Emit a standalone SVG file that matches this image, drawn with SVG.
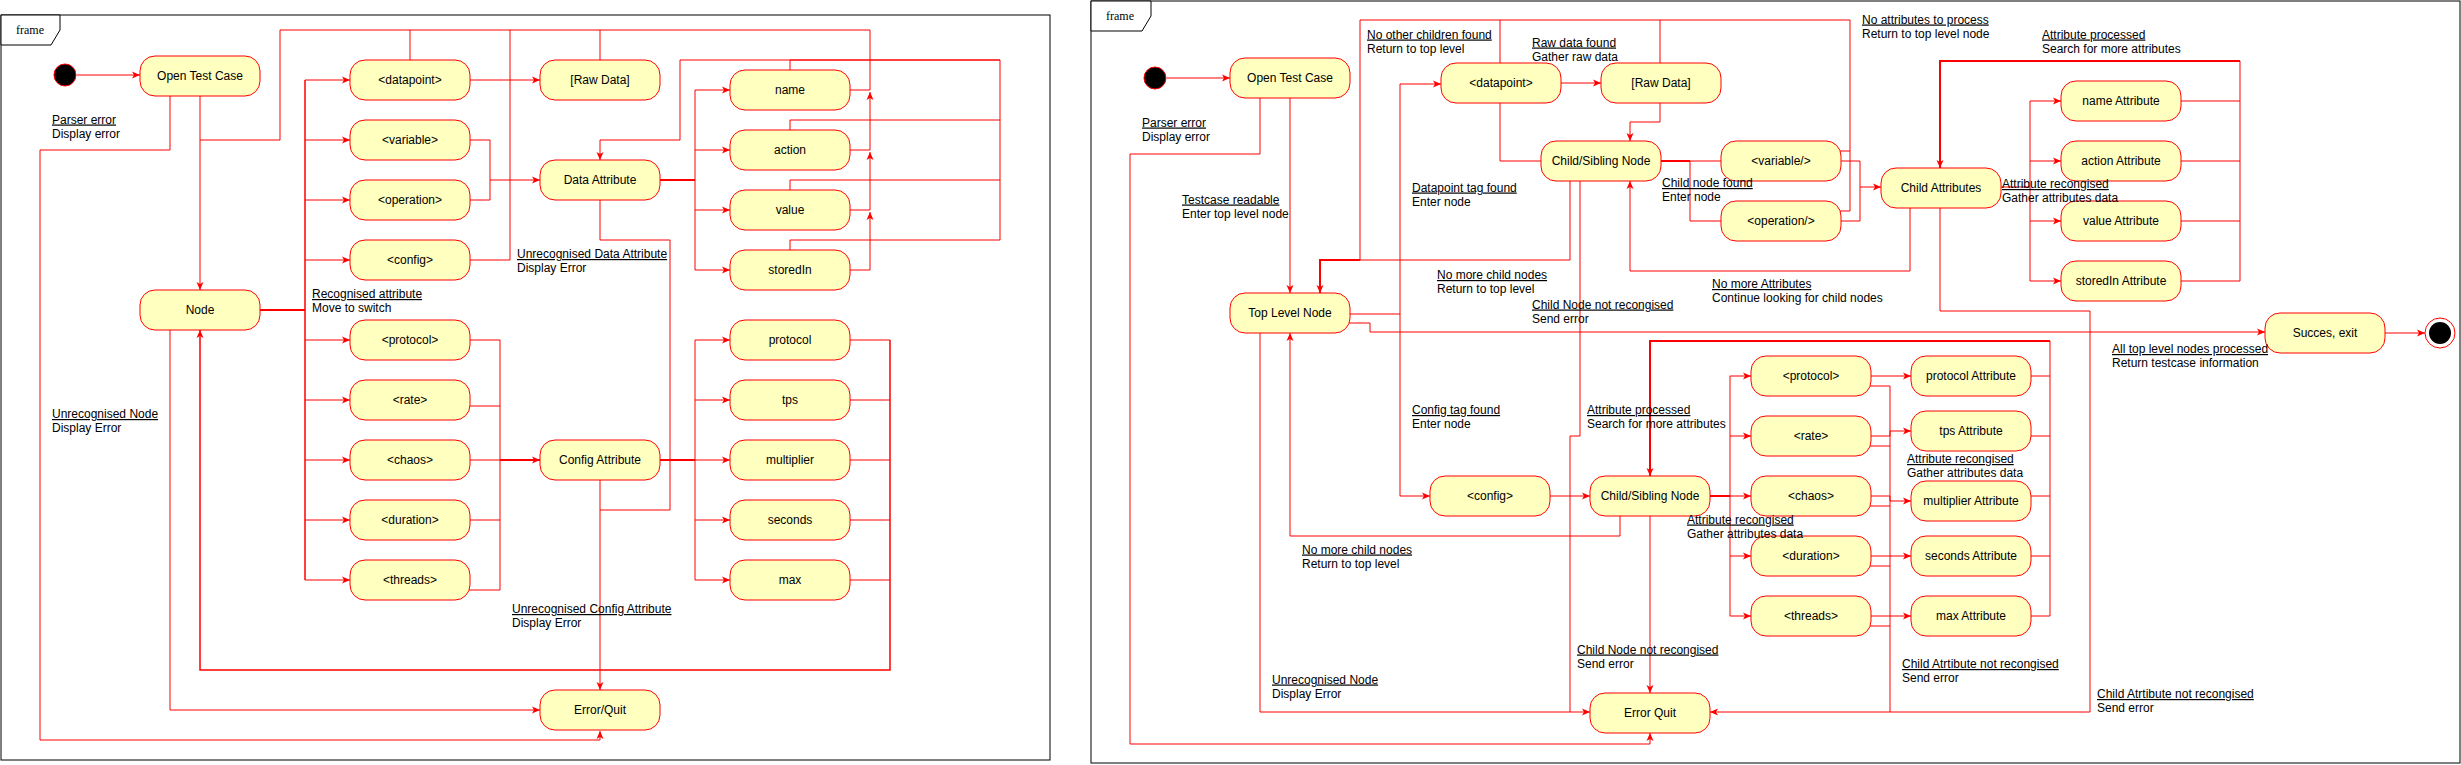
<svg xmlns="http://www.w3.org/2000/svg" width="2461" height="765" viewBox="0 0 2461 765">
<style>
.bg{fill:#fff}
.fr{fill:none;stroke:#000;stroke-width:1}
.tab{fill:#fff;stroke:#000;stroke-width:1}
.ft{font-family:"Liberation Serif",serif;font-size:12px;fill:#000;text-anchor:middle}
.n rect{fill:#ffffc0;stroke:#ff0000;stroke-width:1}
.n text{font-family:"Liberation Sans",Arial,sans-serif;font-size:12px;fill:#000;text-anchor:middle}
.e path{fill:none;stroke:#ff0000;stroke-width:1}
.e path.th{stroke-width:2}
.e path.a{marker-end:url(#arr)}
.lb{font-family:"Liberation Sans",Arial,sans-serif;font-size:12px;fill:#000}
.u{text-decoration:underline}
</style>
<defs>
<marker id="arr" viewBox="0 0 8 8" refX="8" refY="4" markerWidth="8" markerHeight="8" markerUnits="userSpaceOnUse" orient="auto">
<path d="M0,0.5 L8,4 L0,7.5 L2,4 Z" fill="#ff0000"/>
</marker>
</defs>
<rect class="bg" x="0" y="0" width="2461" height="765"/>

<!-- LEFT FRAME -->
<g id="frameL">
<rect class="fr" x="1" y="15" width="1049" height="745"/>
<path class="tab" d="M1,15 H60 V30 L51,45 H1 Z"/>
<text class="ft" x="30" y="34">frame</text>
</g>

<g class="e" id="edgesL">
<path class="a" d="M77,75 H140"/>
<path class="a" d="M200,96 V290"/>
<path class="a" d="M170,96 V150 H40 V740 H600 V731"/>
<path class="th" d="M260,310 H305"/>
<path d="M305,80 V580" style="stroke-width:1.5"/>
<path class="a" d="M305,80 H350"/>
<path class="a" d="M305,140 H350"/>
<path class="a" d="M305,200 H350"/>
<path class="a" d="M305,260 H350"/>
<path class="a" d="M305,340 H350"/>
<path class="a" d="M305,400 H350"/>
<path class="a" d="M305,460 H350"/>
<path class="a" d="M305,520 H350"/>
<path class="a" d="M305,580 H350"/>
<path class="a" d="M470,80 H540"/>
<path class="a" d="M470,140 H490 V180 H540"/>
<path d="M470,200 H490 V180"/>
<path d="M470,260 H510 V30"/>
<path d="M410,60 V30"/>
<path d="M600,60 V30"/>
<path d="M870,30 H280 V140 H200"/>
<path d="M850,90 H870 V30"/>
<path class="a" d="M850,150 H870 V92"/>
<path class="a" d="M850,210 H870 V152"/>
<path class="a" d="M850,270 H870 V212"/>
<path d="M790,70 V60 H1000"/>
<path d="M790,130 V120 H1000"/>
<path d="M790,190 V180 H1000"/>
<path d="M790,250 V240 H1000 V60"/>
<path class="a" d="M1000,60 H680 V140 H600 V160"/>
<path class="th" d="M660,180 H695"/>
<path d="M695,90 V270"/>
<path class="a" d="M695,90 H730"/>
<path class="a" d="M695,150 H730"/>
<path class="a" d="M695,210 H730"/>
<path class="a" d="M695,270 H730"/>
<path d="M600,200 V240 H670 V510 H600"/>
<path class="a" d="M600,480 V690"/>
<path d="M470,340 H500"/>
<path d="M470,406 H500"/>
<path d="M470,460 H500"/>
<path d="M470,520 H500"/>
<path d="M468,590 H500 V340"/>
<path class="a th" d="M500,460 H540"/>
<path class="th" d="M660,460 H695"/>
<path d="M695,340 V580"/>
<path class="a" d="M695,340 H730"/>
<path class="a" d="M695,400 H730"/>
<path class="a" d="M695,460 H730"/>
<path class="a" d="M695,520 H730"/>
<path class="a" d="M695,580 H730"/>
<path d="M850,340 H890"/>
<path d="M850,400 H890"/>
<path d="M850,460 H890"/>
<path d="M850,520 H890"/>
<path d="M850,580 H890"/>
<path class="a" d="M890,340 V670 H200 V330" style="stroke-width:1.5"/>
<path class="a" d="M170,330 V710 H540"/>
</g>

<g id="startL"><circle cx="65" cy="75" r="11" fill="#000" stroke="#ff0000" stroke-width="1"/></g>
<g class="n" id="L_open"><rect x="140" y="56" width="120" height="40" rx="15"/><text x="200" y="80">Open Test Case</text></g>
<g class="n" id="L_node"><rect x="140" y="290" width="120" height="40" rx="15"/><text x="200" y="314">Node</text></g>
<g class="n" id="L_datapoint"><rect x="350" y="60" width="120" height="40" rx="15"/><text x="410" y="84">&lt;datapoint&gt;</text></g>
<g class="n" id="L_variable"><rect x="350" y="120" width="120" height="40" rx="15"/><text x="410" y="144">&lt;variable&gt;</text></g>
<g class="n" id="L_operation"><rect x="350" y="180" width="120" height="40" rx="15"/><text x="410" y="204">&lt;operation&gt;</text></g>
<g class="n" id="L_config"><rect x="350" y="240" width="120" height="40" rx="15"/><text x="410" y="264">&lt;config&gt;</text></g>
<g class="n" id="L_protocol"><rect x="350" y="320" width="120" height="40" rx="15"/><text x="410" y="344">&lt;protocol&gt;</text></g>
<g class="n" id="L_rate"><rect x="350" y="380" width="120" height="40" rx="15"/><text x="410" y="404">&lt;rate&gt;</text></g>
<g class="n" id="L_chaos"><rect x="350" y="440" width="120" height="40" rx="15"/><text x="410" y="464">&lt;chaos&gt;</text></g>
<g class="n" id="L_duration"><rect x="350" y="500" width="120" height="40" rx="15"/><text x="410" y="524">&lt;duration&gt;</text></g>
<g class="n" id="L_threads"><rect x="350" y="560" width="120" height="40" rx="15"/><text x="410" y="584">&lt;threads&gt;</text></g>
<g class="n" id="L_raw"><rect x="540" y="60" width="120" height="40" rx="15"/><text x="600" y="84">[Raw Data]</text></g>
<g class="n" id="L_dataattr"><rect x="540" y="160" width="120" height="40" rx="15"/><text x="600" y="184">Data Attribute</text></g>
<g class="n" id="L_configattr"><rect x="540" y="440" width="120" height="40" rx="15"/><text x="600" y="464">Config Attribute</text></g>
<g class="n" id="L_error"><rect x="540" y="690" width="120" height="40" rx="15"/><text x="600" y="714">Error/Quit</text></g>
<g class="n" id="L_name"><rect x="730" y="70" width="120" height="40" rx="15"/><text x="790" y="94">name</text></g>
<g class="n" id="L_action"><rect x="730" y="130" width="120" height="40" rx="15"/><text x="790" y="154">action</text></g>
<g class="n" id="L_value"><rect x="730" y="190" width="120" height="40" rx="15"/><text x="790" y="214">value</text></g>
<g class="n" id="L_storedIn"><rect x="730" y="250" width="120" height="40" rx="15"/><text x="790" y="274">storedIn</text></g>
<g class="n" id="L_protocolv"><rect x="730" y="320" width="120" height="40" rx="15"/><text x="790" y="344">protocol</text></g>
<g class="n" id="L_tps"><rect x="730" y="380" width="120" height="40" rx="15"/><text x="790" y="404">tps</text></g>
<g class="n" id="L_multiplier"><rect x="730" y="440" width="120" height="40" rx="15"/><text x="790" y="464">multiplier</text></g>
<g class="n" id="L_seconds"><rect x="730" y="500" width="120" height="40" rx="15"/><text x="790" y="524">seconds</text></g>
<g class="n" id="L_max"><rect x="730" y="560" width="120" height="40" rx="15"/><text x="790" y="584">max</text></g>

<g id="labelsL">
<text class="lb" x="52" y="123.5"><tspan class="u">Parser error</tspan><tspan x="52" dy="14">Display error</tspan></text>
<text class="lb" x="312" y="298"><tspan class="u">Recognised attribute</tspan><tspan x="312" dy="14">Move to switch</tspan></text>
<text class="lb" x="517" y="258"><tspan class="u">Unrecognised Data Attribute</tspan><tspan x="517" dy="14">Display Error</tspan></text>
<text class="lb" x="52" y="418"><tspan class="u">Unrecognised Node</tspan><tspan x="52" dy="14">Display Error</tspan></text>
<text class="lb" x="512" y="613"><tspan class="u">Unrecognised Config Attribute</tspan><tspan x="512" dy="14">Display Error</tspan></text>
</g>

<!-- RIGHT FRAME -->
<g id="frameR">
<rect class="fr" x="1091" y="1" width="1369" height="762"/>
<path class="tab" d="M1091,1 H1151 V16 L1142,31 H1091 Z"/>
<text class="ft" x="1120" y="20">frame</text>
</g>

<g class="e" id="edgesR">
<path class="a" d="M1167,78 H1230"/>
<path class="a" d="M1290,98 V293"/>
<path class="a" d="M1260,98 V154 H1130 V744 H1650 V733"/>
<path class="a" d="M1350,314 H1400 V84 H1441"/>
<path class="a" d="M1400,314 V496 H1430"/>
<path class="a" d="M1349,323 H1370 V332 H2265"/>
<path class="a" d="M2385,333 H2425"/>
<path class="a" d="M1260,333 V712 H1590"/>
<path d="M1580,181 V436 H1570 V712"/>
<path d="M1570,181 V260 H1360"/>
<path class="a th" d="M1360,260 H1320 V293"/>
<path d="M1500,63 V20 H1850 V211 H1840"/>
<path d="M1360,20 H1500"/>
<path d="M1360,20 V260"/>
<path d="M1660,63 V20"/>
<path d="M1840,151 H1850"/>
<path class="a" d="M1561,83 H1601"/>
<path class="a" d="M1660,103 V122 H1630 V141"/>
<path d="M1500,103 V161 H1541"/>
<path class="th" d="M1660,161 H1690"/>
<path d="M1690,161 H1721"/>
<path d="M1690,161 V221 H1721"/>
<path class="a" d="M1840,161 H1860 V187 H1881"/>
<path d="M1840,221 H1860 V187"/>
<path class="a" d="M1910,208 V271 H1630 V181"/>
<path class="a" d="M1940,208 V311 H2090 V712 H1710"/>
<path d="M2001,187 H2030"/>
<path d="M2030,101 V281"/>
<path class="a" d="M2030,101 H2061"/>
<path class="a" d="M2030,161 H2061"/>
<path class="a" d="M2030,221 H2061"/>
<path class="a" d="M2030,281 H2061"/>
<path d="M2181,101 H2240"/>
<path d="M2181,161 H2240"/>
<path d="M2181,221 H2240"/>
<path d="M2181,281 H2240 V61"/>
<path class="a th" d="M2240,61 H1940 V168"/>
<path class="a" d="M1620,516 V536 H1290 V333"/>
<path class="a" d="M1650,516 V693"/>
<path class="a" d="M1550,496 H1590"/>
<path class="th" d="M1710,496 H1730"/>
<path d="M1730,376 V616"/>
<path class="a" d="M1730,376 H1751"/>
<path class="a" d="M1730,436 H1751"/>
<path class="a" d="M1730,496 H1751"/>
<path class="a" d="M1730,556 H1751"/>
<path class="a" d="M1730,616 H1751"/>
<path class="a" d="M1871,376 H1911"/>
<path class="a" d="M1871,436 H1890 V431 H1911"/>
<path class="a" d="M1871,496 H1890 V501 H1911"/>
<path class="a" d="M1871,556 H1911"/>
<path class="a" d="M1871,616 H1911"/>
<path d="M1868,386 H1890"/>
<path d="M1868,446 H1890"/>
<path d="M1868,506 H1890"/>
<path d="M1868,566 H1890"/>
<path d="M1868,626 H1890"/>
<path d="M1890,386 V712"/>
<path d="M2031,376 H2050"/>
<path d="M2031,436 H2050"/>
<path d="M2031,496 H2050"/>
<path d="M2031,556 H2050"/>
<path d="M2031,616 H2050 V341"/>
<path class="a th" d="M2050,341 H1650 V476"/>
</g>

<g id="startR"><circle cx="1155" cy="78" r="11" fill="#000" stroke="#ff0000" stroke-width="1"/></g>
<g id="endR"><circle cx="2440" cy="333" r="15" fill="#fff" stroke="#ff0000" stroke-width="1"/><circle cx="2440" cy="333" r="11" fill="#000"/></g>
<g class="n" id="R_open"><rect x="1230" y="58" width="120" height="40" rx="15"/><text x="1290" y="82">Open Test Case</text></g>
<g class="n" id="R_top"><rect x="1230" y="293" width="120" height="40" rx="15"/><text x="1290" y="317">Top Level Node</text></g>
<g class="n" id="R_datapoint"><rect x="1441" y="63" width="120" height="40" rx="15"/><text x="1501" y="87">&lt;datapoint&gt;</text></g>
<g class="n" id="R_raw"><rect x="1601" y="63" width="120" height="40" rx="15"/><text x="1661" y="87">[Raw Data]</text></g>
<g class="n" id="R_child1"><rect x="1541" y="141" width="120" height="40" rx="15"/><text x="1601" y="165">Child/Sibling Node</text></g>
<g class="n" id="R_variable"><rect x="1721" y="141" width="120" height="40" rx="15"/><text x="1781" y="165">&lt;variable/&gt;</text></g>
<g class="n" id="R_operation"><rect x="1721" y="201" width="120" height="40" rx="15"/><text x="1781" y="225">&lt;operation/&gt;</text></g>
<g class="n" id="R_childattr"><rect x="1881" y="168" width="120" height="40" rx="15"/><text x="1941" y="192">Child Attributes</text></g>
<g class="n" id="R_name"><rect x="2061" y="81" width="120" height="40" rx="15"/><text x="2121" y="105">name Attribute</text></g>
<g class="n" id="R_action"><rect x="2061" y="141" width="120" height="40" rx="15"/><text x="2121" y="165">action Attribute</text></g>
<g class="n" id="R_value"><rect x="2061" y="201" width="120" height="40" rx="15"/><text x="2121" y="225">value Attribute</text></g>
<g class="n" id="R_storedIn"><rect x="2061" y="261" width="120" height="40" rx="15"/><text x="2121" y="285">storedIn Attribute</text></g>
<g class="n" id="R_success"><rect x="2265" y="313" width="120" height="40" rx="15"/><text x="2325" y="337">Succes, exit</text></g>
<g class="n" id="R_config"><rect x="1430" y="476" width="120" height="40" rx="15"/><text x="1490" y="500">&lt;config&gt;</text></g>
<g class="n" id="R_child2"><rect x="1590" y="476" width="120" height="40" rx="15"/><text x="1650" y="500">Child/Sibling Node</text></g>
<g class="n" id="R_protocol"><rect x="1751" y="356" width="120" height="40" rx="15"/><text x="1811" y="380">&lt;protocol&gt;</text></g>
<g class="n" id="R_rate"><rect x="1751" y="416" width="120" height="40" rx="15"/><text x="1811" y="440">&lt;rate&gt;</text></g>
<g class="n" id="R_chaos"><rect x="1751" y="476" width="120" height="40" rx="15"/><text x="1811" y="500">&lt;chaos&gt;</text></g>
<g class="n" id="R_duration"><rect x="1751" y="536" width="120" height="40" rx="15"/><text x="1811" y="560">&lt;duration&gt;</text></g>
<g class="n" id="R_threads"><rect x="1751" y="596" width="120" height="40" rx="15"/><text x="1811" y="620">&lt;threads&gt;</text></g>
<g class="n" id="R_protocolattr"><rect x="1911" y="356" width="120" height="40" rx="15"/><text x="1971" y="380">protocol Attribute</text></g>
<g class="n" id="R_tps"><rect x="1911" y="411" width="120" height="40" rx="15"/><text x="1971" y="435">tps Attribute</text></g>
<g class="n" id="R_multiplier"><rect x="1911" y="481" width="120" height="40" rx="15"/><text x="1971" y="505">multiplier Attribute</text></g>
<g class="n" id="R_seconds"><rect x="1911" y="536" width="120" height="40" rx="15"/><text x="1971" y="560">seconds Attribute</text></g>
<g class="n" id="R_max"><rect x="1911" y="596" width="120" height="40" rx="15"/><text x="1971" y="620">max Attribute</text></g>
<g class="n" id="R_error"><rect x="1590" y="693" width="120" height="40" rx="15"/><text x="1650" y="717">Error Quit</text></g>

<g id="labelsR">
<text class="lb" x="1142" y="126.5"><tspan class="u">Parser error</tspan><tspan x="1142" dy="14">Display error</tspan></text>
<text class="lb" x="1182" y="203.5"><tspan class="u">Testcase readable</tspan><tspan x="1182" dy="14">Enter top level node</tspan></text>
<text class="lb" x="1367" y="38.5"><tspan class="u">No other children found</tspan><tspan x="1367" dy="14">Return to top level</tspan></text>
<text class="lb" x="1532" y="46.5"><tspan class="u">Raw data found</tspan><tspan x="1532" dy="14">Gather raw data</tspan></text>
<text class="lb" x="1412" y="191.5"><tspan class="u">Datapoint tag found</tspan><tspan x="1412" dy="14">Enter node</tspan></text>
<text class="lb" x="1662" y="187"><tspan class="u">Child node found</tspan><tspan x="1662" dy="14">Enter node</tspan></text>
<text class="lb" x="1862" y="23.5"><tspan class="u">No attributes to process</tspan><tspan x="1862" dy="14">Return to top level node</tspan></text>
<text class="lb" x="2042" y="38.5"><tspan class="u">Attribute processed</tspan><tspan x="2042" dy="14">Search for more attributes</tspan></text>
<text class="lb" x="2002" y="188"><tspan class="u">Attribute recongised</tspan><tspan x="2002" dy="14">Gather attributes data</tspan></text>
<text class="lb" x="1437" y="279"><tspan class="u">No more child nodes</tspan><tspan x="1437" dy="14">Return to top level</tspan></text>
<text class="lb" x="1712" y="288"><tspan class="u">No more Attributes</tspan><tspan x="1712" dy="14">Continue looking for child nodes</tspan></text>
<text class="lb" x="1532" y="308.5"><tspan class="u">Child Node not recongised</tspan><tspan x="1532" dy="14">Send error</tspan></text>
<text class="lb" x="2112" y="353"><tspan class="u">All top level nodes processed</tspan><tspan x="2112" dy="14">Return testcase information</tspan></text>
<text class="lb" x="1412" y="414"><tspan class="u">Config tag found</tspan><tspan x="1412" dy="14">Enter node</tspan></text>
<text class="lb" x="1587" y="414"><tspan class="u">Attribute processed</tspan><tspan x="1587" dy="14">Search for more attributes</tspan></text>
<text class="lb" x="1907" y="463"><tspan class="u">Attribute recongised</tspan><tspan x="1907" dy="14">Gather attributes data</tspan></text>
<text class="lb" x="1687" y="523.5"><tspan class="u">Attribute recongised</tspan><tspan x="1687" dy="14">Gather attributes data</tspan></text>
<text class="lb" x="1302" y="553.5"><tspan class="u">No more child nodes</tspan><tspan x="1302" dy="14">Return to top level</tspan></text>
<text class="lb" x="1577" y="653.5"><tspan class="u">Child Node not recongised</tspan><tspan x="1577" dy="14">Send error</tspan></text>
<text class="lb" x="1902" y="668"><tspan class="u">Child Atrtibute not recongised</tspan><tspan x="1902" dy="14">Send error</tspan></text>
<text class="lb" x="1272" y="683.5"><tspan class="u">Unrecognised Node</tspan><tspan x="1272" dy="14">Display Error</tspan></text>
<text class="lb" x="2097" y="698"><tspan class="u">Child Atrtibute not recongised</tspan><tspan x="2097" dy="14">Send error</tspan></text>
</g>
</svg>
